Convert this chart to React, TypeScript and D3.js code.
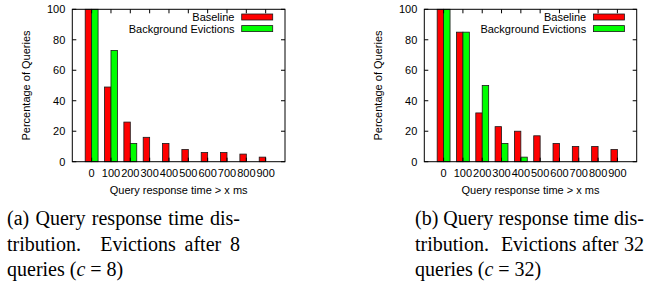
import * as d3 from 'd3';
import { useEffect, useRef } from 'react';

const categories = ['0', '100', '200', '300', '400', '500', '600', '700', '800', '900'];
const seriesNames = ['Baseline', 'Background Evictions'];
const seriesColors = ['#ff0000', '#00ff00'];
const yTicks = [0, 20, 40, 60, 80, 100];

// c = 8
const baselineC8 = [100, 49, 26, 16, 12, 8, 6, 6, 5, 3];
const evictionsC8 = [100, 73, 12, 0, 0, 0, 0, 0, 0, 0];
// c = 32
const baselineC32 = [100, 85, 32, 23, 20, 17, 12, 10, 10, 8];
const evictionsC32 = [100, 85, 50, 12, 3, 0, 0, 0, 0, 0];

const captionA = ['(a) Query response time dis-', 'tribution. Evictions after 8', 'queries'];
const captionB = ['(b) Query response time dis-', 'tribution. Evictions after 32', 'queries'];
const cValues = ['8', '32'];

const W = 659;
const H = 288;
const SANS = '"Liberation Sans", Arial, Helvetica, sans-serif';
const SERIF = '"Liberation Serif", "Times New Roman", serif';

type Sel = d3.Selection<SVGSVGElement, unknown, null, undefined>;

function drawPanel(svg: Sel, left: number, right: number, series: number[][]) {
  const top = 9.3;
  const bottom = 161.7;
  const x = d3.scaleLinear().domain([-1, 10]).range([left, right]);
  const y = d3.scaleLinear().domain([0, 100]).range([bottom, top]);
  const g = svg.append('g');
  const bw = 1 / 3;

  series.forEach((vals, s) => {
    g.append('g')
      .selectAll('rect')
      .data(vals.map((v, i) => ({ v, i })).filter((d) => d.v > 0))
      .enter()
      .append('rect')
      .attr('x', (d) => x(d.i - bw + s * bw))
      .attr('y', (d) => y(d.v))
      .attr('width', x(bw) - x(0))
      .attr('height', (d) => y(0) - y(d.v))
      .attr('fill', seriesColors[s])
      .attr('stroke', '#1a1a1a')
      .attr('stroke-width', 0.8);
  });

  // frame
  g.append('rect')
    .attr('x', left)
    .attr('y', top)
    .attr('width', right - left)
    .attr('height', bottom - top)
    .attr('fill', 'none')
    .attr('stroke', '#000')
    .attr('stroke-width', 1);

  const tl = 4;
  // y ticks (mirrored)
  yTicks.forEach((t) => {
    g.append('line').attr('x1', left).attr('x2', left + tl).attr('y1', y(t)).attr('y2', y(t)).attr('stroke', '#000');
    g.append('line').attr('x1', right).attr('x2', right - tl).attr('y1', y(t)).attr('y2', y(t)).attr('stroke', '#000');
    g.append('text')
      .attr('x', left - 7)
      .attr('y', y(t) + 4)
      .attr('text-anchor', 'end')
      .attr('font-family', SANS)
      .attr('font-size', 11)
      .text(String(t));
  });

  // x ticks (mirrored)
  categories.forEach((c, i) => {
    g.append('line').attr('x1', x(i)).attr('x2', x(i)).attr('y1', bottom).attr('y2', bottom - tl).attr('stroke', '#000');
    g.append('line').attr('x1', x(i)).attr('x2', x(i)).attr('y1', top).attr('y2', top + tl).attr('stroke', '#000');
    g.append('text')
      .attr('x', x(i))
      .attr('y', 176.5)
      .attr('text-anchor', 'middle')
      .attr('font-family', SANS)
      .attr('font-size', 11)
      .text(c);
  });

  g.append('text')
    .attr('x', (left + right) / 2)
    .attr('y', 194)
    .attr('text-anchor', 'middle')
    .attr('font-family', SANS)
    .attr('font-size', 11)
    .text('Query response time > x ms');

  g.append('text')
    .attr('transform', `translate(${left - 42},${(top + bottom) / 2}) rotate(-90)`)
    .attr('text-anchor', 'middle')
    .attr('font-family', SANS)
    .attr('font-size', 11)
    .text('Percentage of Queries');

  // legend
  seriesNames.forEach((name, s) => {
    const ly = 17 + s * 11.6;
    g.append('text')
      .attr('x', right - 50.5)
      .attr('y', ly + 4)
      .attr('text-anchor', 'end')
      .attr('font-family', SANS)
      .attr('font-size', 11)
      .text(name);
    g.append('rect')
      .attr('x', right - 43.3)
      .attr('y', ly - 3)
      .attr('width', 31)
      .attr('height', 6)
      .attr('fill', seriesColors[s])
      .attr('stroke', '#1a1a1a')
      .attr('stroke-width', 0.8);
  });
}

function justifyLine(svg: Sel, words: string[], x0: number, x1: number, yb: number) {
  const g = svg.append('g');
  const nodes = words.map((w) =>
    g.append('text').attr('y', yb).attr('font-family', SERIF).attr('font-size', 20).text(w)
  );
  const widths = nodes.map((n) => (n.node() as SVGTextElement).getComputedTextLength());
  // sentence space after a period gets double weight, like TeX
  const weights = words.slice(0, -1).map((w) => (w.endsWith('.') ? 2.2 : 1));
  const free = x1 - x0 - d3.sum(widths);
  const unit = free / d3.sum(weights);
  let cx = x0;
  nodes.forEach((n, i) => {
    n.attr('x', cx);
    cx += widths[i] + (i < weights.length ? weights[i] * unit : 0);
  });
}

function drawCaption(svg: Sel, lines: string[], cv: string, x0: number, x1: number) {
  justifyLine(svg, lines[0].split(' '), x0, x1, 225);
  justifyLine(svg, lines[1].split(' '), x0, x1, 250.5);
  const t = svg.append('text').attr('x', x0).attr('y', 276).attr('font-family', SERIF).attr('font-size', 20);
  t.append('tspan').text(lines[2] + ' (');
  t.append('tspan').attr('font-style', 'italic').text('c');
  t.append('tspan').text(` = ${cv})`);
}

export default function App() {
  const ref = useRef<SVGSVGElement | null>(null);
  useEffect(() => {
    if (!ref.current) return;
    const svg = d3.select(ref.current);
    svg.selectAll('*').remove();
    svg.append('rect').attr('width', W).attr('height', H).attr('fill', '#fff');
    drawPanel(svg, 72.3, 285, [baselineC8, evictionsC8]);
    drawPanel(svg, 424.3, 636.7, [baselineC32, evictionsC32]);
    drawCaption(svg, captionA, cValues[0], 7, 240);
    drawCaption(svg, captionB, cValues[1], 415, 644);
  }, []);

  return (
    <svg
      ref={ref}
      width={W}
      height={H}
      viewBox={`0 0 ${W} ${H}`}
      style={{ position: 'absolute', left: 0, top: 0, display: 'block' }}
    />
  );
}
